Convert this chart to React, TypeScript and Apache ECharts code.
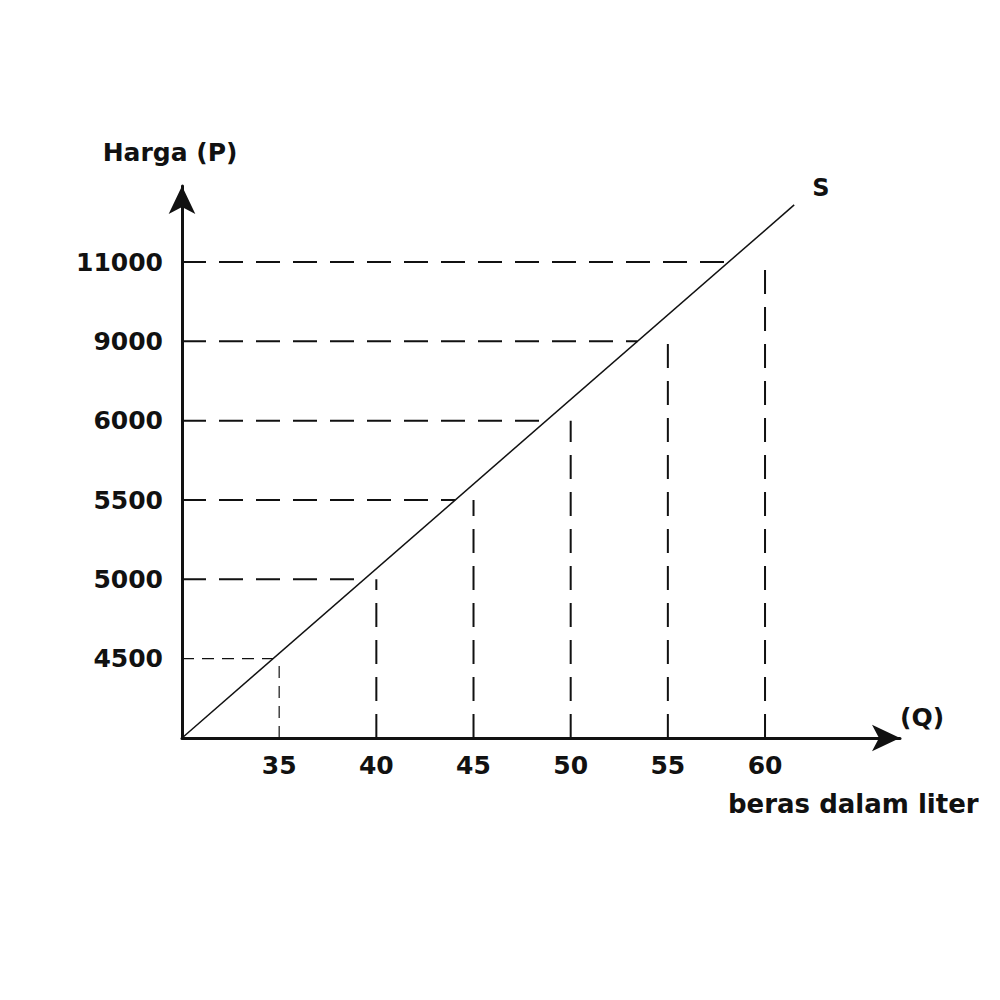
import React, { useEffect, useRef } from 'react';
import * as echarts from 'echarts';

// jumlah beras (Q) and harga (P), drawn at evenly spaced positions 1..6
const quantities = [35, 40, 45, 50, 55, 60];
const prices = [4500, 5000, 5500, 6000, 9000, 11000];
// supply curve S from the origin, in axis position units
const supplyLine = [
  [0, 0],
  [6.3, 6.72],
];

const FONT = 'DejaVu Sans';
const INK = '#111';

const App: React.FC = () => {
  const chartRef = useRef<HTMLDivElement>(null);

  useEffect(() => {
    if (!chartRef.current) return;
    const chart = echarts.init(chartRef.current, null, { renderer: 'svg' });

    const slope = supplyLine[1][1] / supplyLine[1][0];

    const guideSeries: any[] = [];
    prices.forEach((p, i) => {
      const pos = i + 1;
      const thin = i === 0;
      const style = {
        color: INK,
        width: thin ? 1.2 : 2,
        type: thin ? [12, 8] : [24, 13],
      };
      // horizontal: from P axis to the S line
      guideSeries.push({
        type: 'line',
        name: 'P ' + p,
        data: [
          [0, pos],
          [pos / slope, pos],
        ],
        symbol: 'none',
        silent: true,
        lineStyle: style,
      });
      // vertical: from Q axis up to the price level
      guideSeries.push({
        type: 'line',
        name: 'Q ' + quantities[i],
        data: [
          [pos, 0],
          [pos, pos],
        ],
        symbol: 'none',
        silent: true,
        lineStyle: style,
      });
    });

    const tickLabel = (list: number[]) => (v: number) => {
      const i = Math.round(v) - 1;
      return Math.abs(v - Math.round(v)) < 1e-6 && i >= 0 && i < list.length
        ? String(list[i])
        : '';
    };

    const option: echarts.EChartsOption = {
      animation: false,
      backgroundColor: '#fff',
      textStyle: { fontFamily: FONT },
      grid: { left: 182, right: 100, top: 186, bottom: 262 },
      xAxis: {
        type: 'value',
        min: 0,
        max: 7.389,
        interval: 1,
        name: '(Q)',
        nameLocation: 'end',
        nameGap: 0,
        nameTextStyle: {
          fontFamily: FONT,
          fontWeight: 'bold',
          fontSize: 25,
          color: INK,
          verticalAlign: 'bottom',
          padding: [0, 0, 8, 0],
        },
        axisLine: {
          lineStyle: { color: INK, width: 3 },
          symbol: ['none', 'arrow'],
          symbolSize: [20, 28],
        },
        axisTick: { show: false },
        splitLine: { show: false },
        axisLabel: {
          margin: 15,
          fontFamily: FONT,
          fontWeight: 'bold',
          fontSize: 25,
          color: INK,
          formatter: tickLabel(quantities),
        },
      },
      yAxis: {
        type: 'value',
        min: 0,
        max: 6.958,
        interval: 1,
        name: 'Harga (P)',
        nameLocation: 'end',
        nameGap: 21,
        nameTextStyle: {
          fontFamily: FONT,
          fontWeight: 'bold',
          fontSize: 25,
          color: INK,
          align: 'center',
          padding: [0, 24, 0, 0],
        },
        axisLine: {
          lineStyle: { color: INK, width: 3 },
          symbol: ['none', 'arrow'],
          symbolSize: [20, 28],
        },
        axisTick: { show: false },
        splitLine: { show: false },
        axisLabel: {
          margin: 19,
          fontFamily: FONT,
          fontWeight: 'bold',
          fontSize: 25,
          color: INK,
          formatter: tickLabel(prices),
        },
      },
      graphic: [
        {
          type: 'text',
          left: 728,
          top: 791,
          style: {
            text: 'beras dalam liter',
            font: `bold 26px "${FONT}"`,
            fill: INK,
          },
        },
      ],
      series: [
        ...guideSeries,
        {
          type: 'line',
          name: 'S',
          data: supplyLine,
          symbol: 'none',
          silent: true,
          lineStyle: { color: INK, width: 1.5 },
          endLabel: {
            show: true,
            formatter: 'S',
            offset: [10, -17],
            fontFamily: FONT,
            fontWeight: 'bold',
            fontSize: 24,
            color: INK,
          },
        },
      ],
    };

    chart.setOption(option);
    return () => {
      chart.dispose();
    };
  }, []);

  return (
    <div
      ref={chartRef}
      style={{ position: 'absolute', left: 0, top: 0, width: 1000, height: 1000 }}
    />
  );
};

export default App;
